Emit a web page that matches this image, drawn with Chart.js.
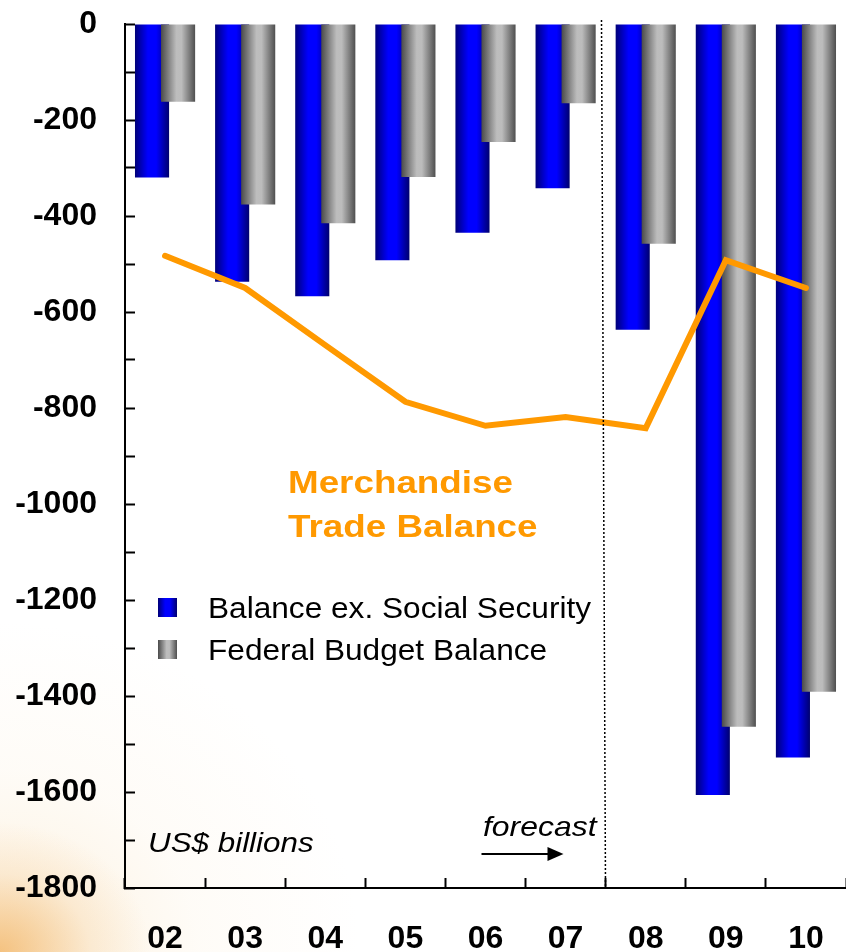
<!DOCTYPE html>
<html>
<head>
<meta charset="utf-8">
<script src="https://cdn.jsdelivr.net/npm/chart.js@4.4.1/dist/chart.umd.min.js"></script>
<style>
  html, body { margin: 0; padding: 0; background: #fff; }
  #wrap {
    position: relative; width: 846px; height: 952px; overflow: hidden;
    background:
      radial-gradient(ellipse 150px 130px at 0% 100%, rgba(240,170,80,0.65) 0%, rgba(245,200,140,0.25) 60%, rgba(255,255,255,0) 100%),
      radial-gradient(ellipse 360px 330px at 0% 100%, rgba(248,220,175,0.45) 0%, rgba(252,238,215,0.2) 55%, rgba(255,255,255,0) 100%),
      #fff;
  }
  #grafico { position: absolute; left: 0; top: 0; }
  .txt { position: absolute; white-space: nowrap; font-family: 'Liberation Sans', Arial, sans-serif; transform-origin: 0 0; }
  .box { position: absolute; width: 19px; height: 19px; }
</style>
</head>
<body>
<div id="wrap">
  <canvas id="grafico" width="846" height="952"></canvas>
  <div id="legenda"></div>
  <div class="txt" id="titulo-linha" style="left:288px; top:460px; font-size:32px; line-height:44px; font-weight:bold; color:#FF9900; transform:scaleX(1.15)"></div>
  <div class="txt" style="left:148px; top:829px; font-size:28px; line-height:28px; font-style:italic; color:#000; transform:scaleX(1.12)">US$ billions</div>
  <div class="txt" style="left:483px; top:813px; font-size:28px; line-height:28px; font-style:italic; color:#000; transform:scaleX(1.14)">forecast</div>
</div>
<script>
const anos = ['02', '03', '04', '05', '06', '07', '08', '09', '10'];
const semSS = [-320, -537, -567, -492, -435, -342, -637, -1606, -1528];
const federal = [-162, -376, -415, -319, -246, -165, -458, -1464, -1391];
const comercio = [-483, -550, -669, -787, -837, -819, -842, -492, -550];
const nomes = ['Balance ex. Social Security', 'Federal Budget Balance', 'Merchandise Trade Balance'];
const yTicks = { min: -1800, max: 0, passo: 100, rotulo: 200 };

const fonte = "'Liberation Sans', Arial, sans-serif";
const laranja = '#FF9900';
// horizontal shading of each bar (left edge -> right edge)
const paradas = [
    [[0, '#000078'], [0.38, '#0000ff'], [0.62, '#0000ff'], [1, '#00006e']],
    [[0, '#4a4a4a'], [0.45, '#bdbdbd'], [0.6, '#bcbcbc'], [1, '#4f4f4f']]
];

// legend and line title as plain html
document.getElementById('legenda').innerHTML = nomes.slice(0, 2).map((n, i) => {
    const g = 'linear-gradient(to right,' + paradas[i].map(p => p[1] + ' ' + (p[0] * 100) + '%').join(',') + ')';
    const topo = 598 + i * 42;
    return `<div class="box" style="left:158px; top:${topo}px; background:${g}"></div>
            <div class="txt" style="left:208px; top:${topo - 4}px; font-size:29px; line-height:29px; color:#000; transform:scaleX(1.09)">${n}</div>`;
}).join('');
document.getElementById('titulo-linha').innerHTML = nomes[2].replace('Merchandise ', 'Merchandise<br>');

const desenho = {
    id: 'desenho',
    beforeDatasetsDraw(chart) {
        const ctx = chart.ctx;
        [0, 1].forEach(i => {
            chart.getDatasetMeta(i).data.forEach(bar => {
                const g = ctx.createLinearGradient(bar.x - bar.width / 2, 0, bar.x + bar.width / 2, 0);
                paradas[i].forEach(p => g.addColorStop(p[0], p[1]));
                bar.options.backgroundColor = g;
            });
        });
        // blue first, grey over it, line last
        [0, 1, 2].forEach(i => chart.getDatasetMeta(i).controller.draw());
        return false;
    },
    afterDraw(chart) {
        const ctx = chart.ctx;
        const x = chart.scales.x;
        const fx = Math.round((x.getPixelForValue(5) + x.getPixelForValue(6)) / 2) - 2.5;
        ctx.save();
        // forecast divider
        ctx.strokeStyle = '#000';
        ctx.lineWidth = 1.5;
        ctx.setLineDash([2, 2]);
        ctx.beginPath();
        ctx.moveTo(fx - 2, 20);
        ctx.lineTo(fx + 2, chart.chartArea.bottom);
        ctx.stroke();
        // arrow under "forecast"
        ctx.setLineDash([]);
        ctx.lineWidth = 2;
        ctx.beginPath();
        ctx.moveTo(fx - 122, 854);
        ctx.lineTo(fx - 52, 854);
        ctx.stroke();
        ctx.fillStyle = '#000';
        ctx.beginPath();
        ctx.moveTo(fx - 40, 854);
        ctx.lineTo(fx - 56, 847);
        ctx.lineTo(fx - 56, 861);
        ctx.closePath();
        ctx.fill();
        ctx.restore();
    }
};

new Chart(document.getElementById('grafico'), {
    type: 'bar',
    data: {
        labels: anos,
        datasets: [
            { label: nomes[0], data: semSS, backgroundColor: () => '#0000ff', borderWidth: 0,
              categoryPercentage: 0.65, barPercentage: 1.31 },
            { label: nomes[1], data: federal, backgroundColor: () => '#bdbdbd', borderWidth: 0,
              categoryPercentage: 0.65, barPercentage: 1.31 },
            { type: 'line', label: nomes[2], data: comercio, borderColor: laranja, borderWidth: 6,
              pointRadius: 0, tension: 0, fill: false, borderCapStyle: 'round' }
        ]
    },
    options: {
        responsive: false,
        animation: false,
        layout: { padding: { top: 24, right: 0, left: 0, bottom: 0 } },
        plugins: { legend: { display: false }, tooltip: { enabled: false } },
        scales: {
            x: {
                offset: true,
                grid: { offset: true, drawOnChartArea: false, tickLength: -10, tickWidth: 2, tickColor: '#000' },
                border: { color: '#000', width: 2 },
                ticks: { color: '#000', padding: 42, maxRotation: 0, font: { family: fonte, size: 32, weight: 'bold' } },
                afterFit: s => { s.height = 64; s.paddingLeft = 0; s.paddingRight = 0; }
            },
            y: {
                min: yTicks.min, max: yTicks.max,
                grid: { drawOnChartArea: false, tickLength: -10, tickWidth: 2, tickColor: '#000' },
                border: { color: '#000', width: 2 },
                ticks: {
                    stepSize: yTicks.passo, autoSkip: false, padding: 38, color: '#000',
                    font: { family: fonte, size: 32, weight: 'bold' },
                    callback: v => v % yTicks.rotulo === 0 ? v : ''
                },
                afterFit: s => { s.width = 125; s.paddingTop = 0; s.paddingBottom = 0; }
            }
        }
    },
    plugins: [desenho]
});
</script>
</body>
</html>
